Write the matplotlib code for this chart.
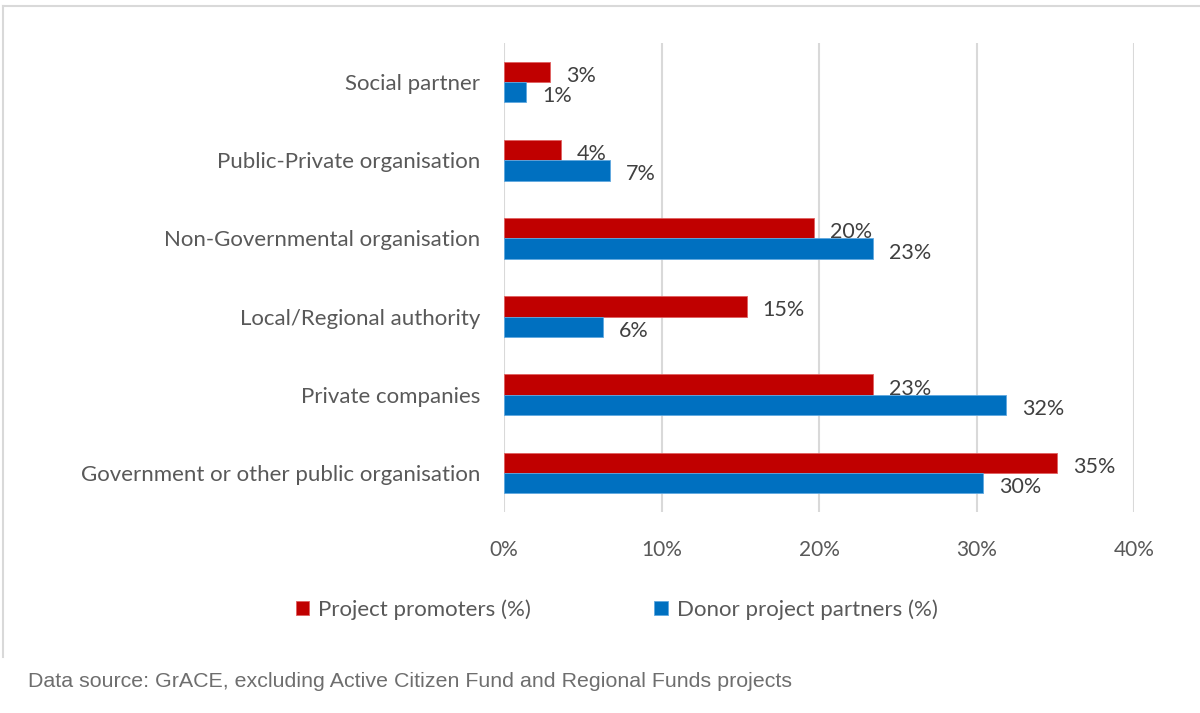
import matplotlib
matplotlib.use("Agg")
import matplotlib.pyplot as plt
from matplotlib.lines import Line2D
import numpy as np

categories = [
    "Government or other public organisation",
    "Private companies",
    "Local/Regional authority",
    "Non-Governmental organisation",
    "Public-Private organisation",
    "Social partner",
]
promoters = [35.1, 23.4, 15.4, 19.7, 3.6, 2.9]
partners = [30.4, 31.9, 6.3, 23.4, 6.7, 1.4]
series_names = ["Project promoters (%)", "Donor project partners (%)"]
x_ticks = [0, 10, 20, 30, 40]

RED = "#C00000"
BLUE = "#0070C0"
TEXT = "#595959"
LABEL = "#404040"
GRID = "#D9D9D9"
FONT = "Lato"

fig = plt.figure(figsize=(12, 7.13), dpi=100)
ax = fig.add_axes([0.42, 0.2819, 0.525, 0.6578])

y = np.arange(len(categories))
h = 0.26
b1 = ax.barh(y + h / 2, promoters, height=h, color=RED, edgecolor="#E06060",
             linewidth=0.6, label=series_names[0], zorder=3)
b2 = ax.barh(y - h / 2, partners, height=h, color=BLUE, edgecolor="#5FA8E0",
             linewidth=0.6, label=series_names[1], zorder=3)

for bars, vals in ((b1, promoters), (b2, partners)):
    for bar, v in zip(bars, vals):
        ax.annotate(f"{v:.0f}%", (v, bar.get_y() + bar.get_height() / 2),
                    xytext=(16, -4), textcoords="offset pixels",
                    ha="left", va="center", fontsize=15.5, color=LABEL,
                    family=FONT)

ax.set_xlim(0, 40)
ax.set_ylim(-0.5, len(categories) - 0.5)
ax.set_xticks(x_ticks)
ax.set_xticklabels([f"{t}%" for t in x_ticks], fontsize=15, color=TEXT,
                   family=FONT)
ax.set_yticks(y)
ax.set_yticklabels(categories, fontsize=16, color=TEXT, family=FONT)
ax.tick_params(axis="both", length=0)
ax.tick_params(axis="x", pad=20)
ax.tick_params(axis="y", pad=17)
ax.grid(axis="x", color=GRID, linewidth=1.5, zorder=0)
for s in ax.spines.values():
    s.set_visible(False)

leg = fig.legend(handles=[b1, b2], labels=series_names, loc="center",
                 bbox_to_anchor=(0.514, 0.1445), ncol=2, frameon=False,
                 prop={"family": FONT, "size": 16}, handlelength=0.6,
                 handleheight=0.6, handletextpad=0.4, columnspacing=5.55)
for t in leg.get_texts():
    t.set_color(TEXT)

# outer chart border (top and left edges)
fig.add_artist(Line2D([0.0028, 1.0], [0.9916, 0.9916], color=GRID,
                      linewidth=1.5, transform=fig.transFigure))
fig.add_artist(Line2D([0.0028, 0.0028], [0.9916, 0.0785], color=GRID,
                      linewidth=1.5, transform=fig.transFigure))

fig.text(0.0235, 0.044, "Data source: GrACE, excluding Active Citizen Fund "
         "and Regional Funds projects", fontsize=15.4, color="#6E6E6E",
         family="Liberation Sans", ha="left", va="center")

fig.savefig("out.png", dpi=100)
